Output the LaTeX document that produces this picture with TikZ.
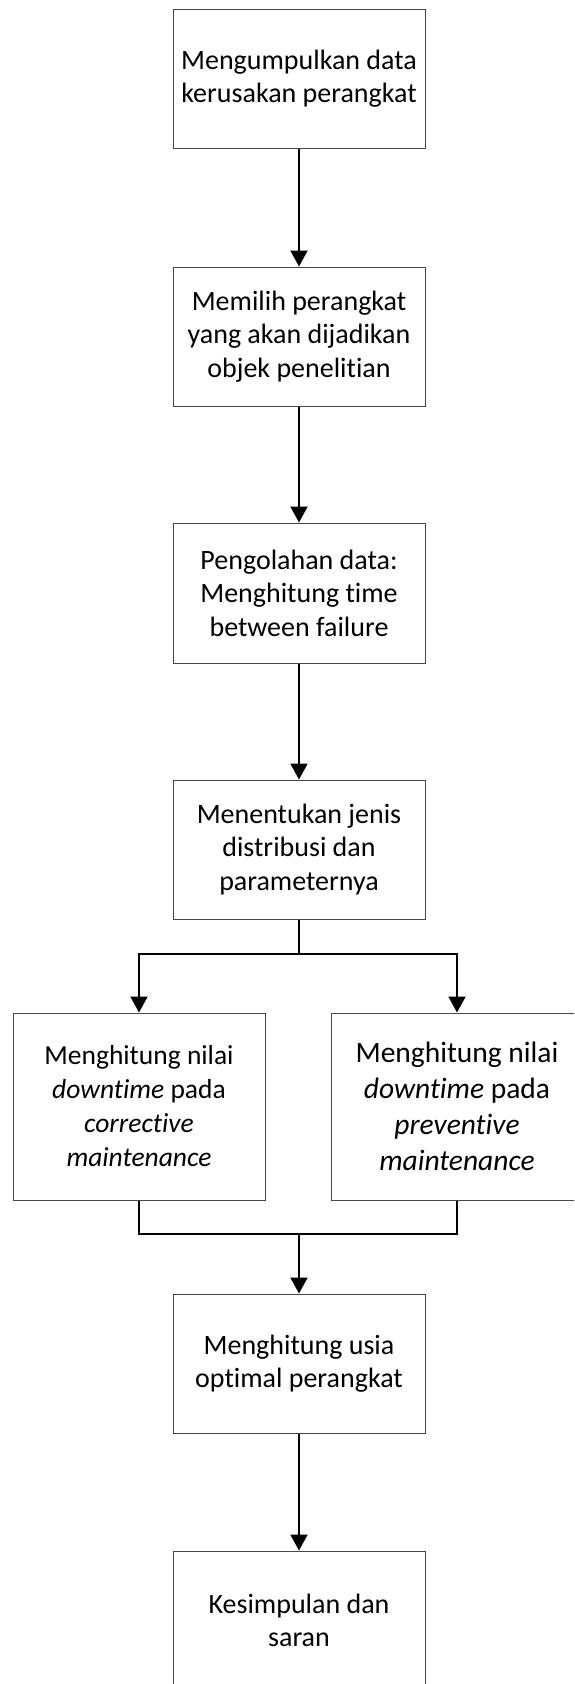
\documentclass[tikz,border=0pt]{standalone}
\usepackage{fontspec}
\setmainfont[Ligatures={NoCommon}]{Carlito}
\usetikzlibrary{arrows.meta}
\tikzset{
  box/.style={draw=black!72, line width=1pt, rectangle, minimum width=252pt, minimum height=139pt, inner sep=0pt, align=center, font=\fontsize{28}{33.5}\selectfont},
  bigbox/.style={box, minimum height=187pt},
  link/.style={line width=2pt, black},
  arr/.style={link, -{Triangle[length=16pt,width=17pt]}}
}
\begin{document}
\begin{tikzpicture}[x=1pt,y=-1pt]
\useasboundingbox (0,0) rectangle (574,1684);
\clip (0,0) rectangle (574,1684);
\node[box] (b1) at (299,78.5) {Mengumpulkan data\\kerusakan perangkat};
\node[box] (b2) at (299,336.5) {Memilih perangkat\\yang akan dijadikan\\objek penelitian};
\node[box, minimum height=140pt] (b3) at (299,593) {Pengolahan data:\\Menghitung time\\between failure};
\node[box] (b4) at (299,849.5) {Menentukan jenis\\distribusi dan\\parameternya};
\node[bigbox, font=\fontsize{27.5}{34}\selectfont] (l) at (139,1106.5) {Menghitung nilai\\\textit{downtime} pada\\\textit{corrective}\\\textit{maintenance}};
\node[bigbox, font=\fontsize{29.5}{36}\selectfont] (r) at (457,1106.5) {Menghitung nilai\\\textit{downtime} pada\\\textit{preventive}\\\textit{maintenance}};
\node[box] (b6) at (299,1363.5) {Menghitung usia\\optimal perangkat};
\node[box] (b7) at (299,1620.5) {Kesimpulan dan\\saran};
\coordinate (j1) at (299,954);
\coordinate (j2) at (299,1234);
\draw[arr] (b1.south) -- (b2.north);
\draw[arr] (b2.south) -- (b3.north);
\draw[arr] (b3.south) -- (b4.north);
\draw[link] (b4.south) -- (j1);
\draw[arr] (j1) -| (l.north);
\draw[arr] (j1) -| (r.north);
\draw[link] (l.south) |- (j2);
\draw[link] (r.south) |- (j2);
\draw[arr] (j2) -- (b6.north);
\draw[arr] (b6.south) -- (b7.north);
\end{tikzpicture}
\end{document}
